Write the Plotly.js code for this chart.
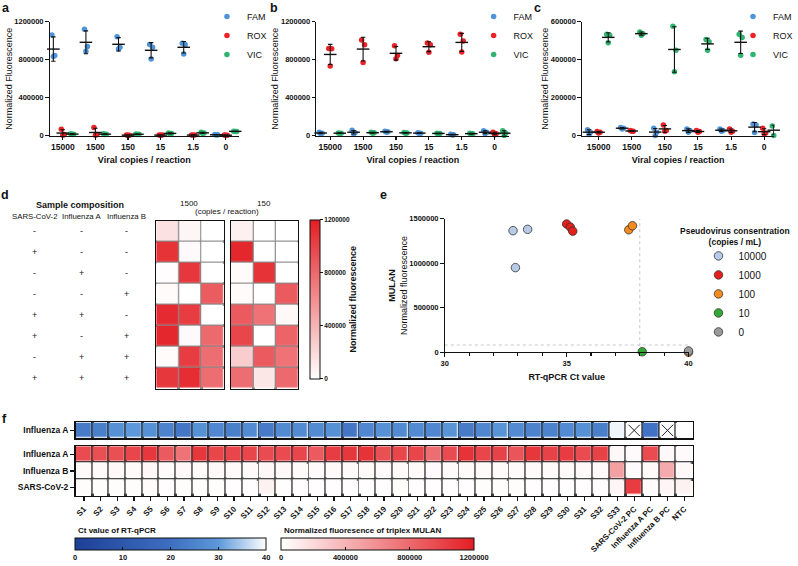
<!DOCTYPE html>
<html><head><meta charset="utf-8">
<script src="https://cdn.plot.ly/plotly-3.0.1.min.js"></script>
<style>html,body{margin:0;padding:0;background:#fff;overflow:hidden;width:798px;height:566px}#chart{width:798px;height:566px;overflow:hidden}</style>
</head><body><div id="chart"></div>
<script>
// ---------------- DATA ----------------
const dilutions = ['15000','1500','150','15','1.5','0'];
const channels = ['FAM','ROX','VIC'];
// panel a (SARS-CoV-2 dilution), 3 replicates per dilution
const aFAM = [[1060000,843000,833000],[1120000,940000,890000],[1043000,931000,913000],[959000,931000,808000],[973000,959000,861000],[12000,8000,5000]];
const aROX = [[66000,10000,3000],[84000,10000,3000],[6000,4000,3000],[6000,5000,3000],[7000,5000,3000],[6000,3000,2000]];
const aVIC = [[20000,15000,10000],[18000,15000,12000],[17000,14000,11000],[28000,22000,18000],[35000,28000,22000],[46000,44000,42000]];
// panel b (Influenza A dilution)
const bFAM = [[35000,25000,20000],[55000,30000,20000],[45000,40000,35000],[30000,25000,22000],[15000,8000,5000],[50000,35000,20000]];
const bROX = [[918000,915000,733000],[1008000,958000,770000],[948000,844000,810000],[975000,958000,878000],[1069000,998000,880000],[35000,20000,8000]];
const bVIC = [[28000,25000,22000],[35000,30000,25000],[32000,28000,25000],[25000,22000,20000],[25000,20000,15000],[50000,25000,0]];
// panel c (Influenza B dilution)
const cFAM = [[31000,17000,5000],[43000,38000,35000],[38000,17000,0],[35000,26000,17000],[35000,26000,23000],[61000,56000,16000]];
const cROX = [[21000,17000,14000],[26000,23000,23000],[56000,26000,23000],[26000,21000,17000],[35000,23000,17000],[38000,14000,9000]];
const cVIC = [[534000,529000,490000],[546000,537000,529000],[576000,450000,336000],[506000,494000,450000],[534000,517000,424000],[50000,35000,0]];

// panel d
const compSARS = ['-','+','-','-','+','+','-','+'];
const compFluA = ['-','-','+','-','+','-','+','+'];
const compFluB = ['-','-','-','+','-','+','+','+'];
const heat1500 = [[160000,50000,0],[1090000,30000,0],[10000,1065000,0],[20000,0,870000],[1130000,1040000,0],[1150000,30000,800000],[20000,1040000,775000],[1065000,1120000,775000]];
const heat150  = [[80000,0,0],[1150000,0,0],[20000,1090000,0],[20000,0,880000],[880000,750000,40000],[985000,0,830000],[270000,880000,750000],[775000,130000,800000]];

// panel e
const eGroups = ['10000','1000','100','10','0'];
const eCt    = [[32.8,33.4,32.9],[35.0,35.15,35.25],[37.55,37.7,40],[38.1],[40]];
const eFluor = [[1365000,1380000,950000],[1440000,1405000,1360000],[1375000,1420000,0],[5000],[14000]];
const ctCutoff = 38;
const fluorCutoff = 81000;

// panel f
const samples = ['S1','S2','S3','S4','S5','S6','S7','S8','S9','S10','S11','S12','S13','S14','S15','S16','S17','S18','S19','S20','S21','S22','S23','S24','S25','S26','S27','S28','S29','S30','S31','S32','S33','SARS-CoV-2 PC','Influenza A PC','Influenza B PC','NTC'];
const ctFluA = [23,24,28,30,28,25,22,28,26,24,27,23,27,27,27,28,22,26,28,27,27,26,29,23,26,29,27,25,25,27,28,24,39,null,21,null,40];
const mulanFluA = [960000,935000,935000,985000,1065000,880000,745000,1065000,985000,985000,985000,960000,960000,985000,880000,1040000,1065000,1090000,935000,985000,985000,775000,960000,1090000,985000,1010000,905000,1065000,1010000,1040000,960000,1010000,35000,30000,960000,35000,30000];
const mulanFluB = [25000,25000,40000,25000,45000,20000,40000,25000,40000,25000,25000,45000,35000,25000,30000,25000,25000,25000,30000,25000,25000,30000,25000,25000,25000,25000,25000,25000,25000,25000,25000,25000,505000,30000,25000,450000,40000];
const mulanSARS = [15000,15000,15000,15000,20000,10000,15000,15000,15000,10000,10000,70000,10000,10000,10000,10000,10000,10000,10000,15000,10000,10000,10000,10000,15000,15000,15000,10000,10000,10000,10000,10000,50000,1040000,20000,50000,70000];
const rowsF = ['Influenza A','Influenza B','SARS-CoV-2'];

// ---------------- HELPERS ----------------
const FONT = 'Liberation Sans, Arial, Helvetica, sans-serif';
const W = 798, H = 566;
const hx = (a,b)=>[a/W,b/W];
const vy = (t,b)=>[1-b/H,1-t/H];
const PX = x=>x/W, PY = y=>1-y/H;
const mean = a => a.reduce((s,v)=>s+v,0)/a.length;
const sdev = a => { const m=mean(a); return Math.sqrt(a.reduce((s,v)=>s+(v-m)*(v-m),0)/(a.length-1)); };
const INK = '#111';

const chColors = {FAM:'#4f93d8', ROX:'#ec2227', VIC:'#2fb36f'};
const groupOffset = {FAM:-0.29, ROX:0, VIC:0.29};
const jitter = [-0.045, 0.045, 0];
const redScale = [[0,'rgb(255,255,255)'],[1,'rgb(227,30,36)']];
const blueScale = [[0,'rgb(28,64,150)'],[0.5,'rgb(62,110,192)'],[0.75,'rgb(92,152,218)'],[1,'rgb(255,255,255)']];

const traces = [];
const panelsABC = [
  {data:{FAM:aFAM,ROX:aROX,VIC:aVIC}, xa:'x',  ya:'y',  leg:'legend'},
  {data:{FAM:bFAM,ROX:bROX,VIC:bVIC}, xa:'x2', ya:'y2', leg:'legend2'},
  {data:{FAM:cFAM,ROX:cROX,VIC:cVIC}, xa:'x3', ya:'y3', leg:'legend3'}
];
panelsABC.forEach(p=>{
  channels.forEach(ch=>{
    const xs=[], ys=[];
    p.data[ch].forEach((reps,i)=>reps.forEach((v,j)=>{xs.push(i+groupOffset[ch]+jitter[j]); ys.push(v);}));
    traces.push({type:'scatter', mode:'markers', x:xs, y:ys, xaxis:p.xa, yaxis:p.ya, name:ch, legend:p.leg,
      marker:{size:5.5, color:chColors[ch]}, cliponaxis:false, hoverinfo:'skip'});
  });
  channels.forEach(ch=>{
    const vals = p.data[ch];
    traces.push({type:'scatter', mode:'markers', x:vals.map((r,i)=>i+groupOffset[ch]), y:vals.map(mean),
      error_y:{type:'data', array:vals.map(sdev), color:INK, thickness:1.1, width:2.2},
      marker:{symbol:'line-ew-open', size:9, color:INK, line:{width:1.4, color:INK}},
      xaxis:p.xa, yaxis:p.ya, showlegend:false, cliponaxis:false, hoverinfo:'skip'});
  });
});

// panel d heatmaps
traces.push({type:'heatmap', z:heat1500, xaxis:'x4', yaxis:'y4', colorscale:redScale, zmin:0, zmax:1200000, xgap:1.2, ygap:1.2,
  showscale:true, hoverinfo:'skip',
  colorbar:{x:PX(312), xanchor:'left', y:PY(302.5), yanchor:'middle', len:159, lenmode:'pixels', thickness:10, thicknessmode:'pixels',
    xpad:0, ypad:0, outlinewidth:1, outlinecolor:INK, tickvals:[0,400000,800000,1200000], tickformat:'d',
    ticks:'outside', ticklen:3, tickcolor:INK, tickfont:{family:FONT, size:6.5, weight:'bold', color:INK},
    title:{text:'Normalized fluorescence', side:'right', font:{family:FONT, size:9, weight:'bold', color:INK}}}});
traces.push({type:'heatmap', z:heat150, xaxis:'x5', yaxis:'y5', colorscale:redScale, zmin:0, zmax:1200000, xgap:1.2, ygap:1.2,
  showscale:false, hoverinfo:'skip'});

// panel e
const eColors = ['#b7cbe9','#e3201b','#f58a1f','#32a935','#9a9a9a'];
eGroups.forEach((g,k)=>{
  traces.push({type:'scatter', mode:'markers', x:eCt[k], y:eFluor[k], name:g, legend:'legend4', xaxis:'x6', yaxis:'y6',
    marker:{size:8.5, color:eColors[k], line:{color:'#333', width:0.8}}, cliponaxis:false, hoverinfo:'skip'});
});

// panel f
const ctIdx = samples.map((s,i)=>i);
traces.push({type:'heatmap', z:[ctFluA.map(v=>v===null?40:v)], x:ctIdx, y:[0], xaxis:'x7', yaxis:'y7',
  colorscale:blueScale, zmin:0, zmax:40, xgap:1.5, ygap:1.5, showscale:true, hoverinfo:'skip',
  colorbar:{orientation:'h', x:PX((76+267)/2), xanchor:'center', y:PY(558), yanchor:'middle', len:191, lenmode:'pixels',
    thickness:12, thicknessmode:'pixels', xpad:0, ypad:0, outlinewidth:1, outlinecolor:INK,
    tickvals:[0,10,20,30,40], ticks:'inside', ticklen:3, tickcolor:INK, tickfont:{family:FONT, size:7.5, weight:'bold', color:INK},
    title:{text:''}}});
traces.push({type:'scatter', mode:'markers', x:ctIdx.filter(i=>ctFluA[i]===null), y:ctIdx.filter(i=>ctFluA[i]===null).map(()=>0),
  xaxis:'x7', yaxis:'y7', showlegend:false, hoverinfo:'skip', cliponaxis:false,
  marker:{symbol:'x-thin-open', size:11.4, color:'#222', line:{width:1, color:'#222'}}});
traces.push({type:'heatmap', z:[mulanFluA, mulanFluB, mulanSARS], x:ctIdx, y:[0,1,2], xaxis:'x8', yaxis:'y8',
  colorscale:redScale, zmin:0, zmax:1200000, xgap:1.5, ygap:1.5, showscale:true, hoverinfo:'skip',
  colorbar:{orientation:'h', x:PX((283+476)/2), xanchor:'center', y:PY(558), yanchor:'middle', len:193, lenmode:'pixels',
    thickness:12, thicknessmode:'pixels', xpad:0, ypad:0, outlinewidth:1, outlinecolor:INK,
    tickvals:[0,400000,800000,1200000], tickformat:'d', ticks:'inside', ticklen:3, tickcolor:INK,
    tickfont:{family:FONT, size:7.5, weight:'bold', color:INK}, title:{text:''}}});

// ---------------- LAYOUT ----------------
const tickFont = {family:FONT, size:7.5, weight:'bold', color:INK};
const baseAx = {showline:true, linecolor:INK, linewidth:1.2, ticks:'outside', ticklen:3.5, tickwidth:1.1, tickcolor:INK,
  showgrid:false, zeroline:false, tickfont:tickFont, fixedrange:true};
function abcX(dom, range, anchor){
  return Object.assign({}, baseAx, {domain:dom, range:range, anchor:anchor, tickmode:'array', tickvals:dilutions.map((d,i)=>i), ticktext:dilutions,
    tickfont:{family:FONT, size:8.5, weight:'bold', color:INK},
    title:{text:'Viral copies / reaction', font:{family:FONT, size:9, weight:'bold', color:INK}, standoff:5}});
}
function abcY(dom, max, step, anchor){
  const tv=[]; for(let v=0; v<=max; v+=step) tv.push(v);
  return Object.assign({}, baseAx, {domain:dom, range:[0,max], anchor:anchor, tickmode:'array', tickvals:tv, tickformat:'d',
    title:{text:'Normalized Fluorescence', font:{family:FONT, size:9, color:INK}, standoff:0}});
}
function heatAx(dom, range, anchor, gridColor, lw){
  return {domain:dom, range:range, anchor:anchor, showline:true, mirror:true, linecolor:INK, linewidth:lw, showgrid:false, zeroline:false,
    tickmode:'array', tickvals:[], ticks:'', showticklabels:false, fixedrange:true,
    minor:{tickmode:'linear', tick0:-0.5, dtick:1, showgrid:true, gridcolor:gridColor, gridwidth:3, ticks:''}};
}
const legBase = {xanchor:'left', yanchor:'top', bgcolor:'rgba(0,0,0,0)', font:{family:FONT, size:9, color:INK}, tracegroupgap:0};

const yDomABC = vy(22,137);
const layout = {
  width:W, height:H, margin:{l:0,r:0,t:0,b:0}, paper_bgcolor:'#fff', plot_bgcolor:'#fff',
  font:{family:FONT, color:INK}, hovermode:false,
  xaxis: abcX(hx(50,240), [-0.4,5.4], 'y'),
  yaxis: abcY(yDomABC, 1200000, 400000, 'x'),
  xaxis2: abcX(hx(318,512), [-0.42,5.45], 'y2'),
  yaxis2: abcY(yDomABC, 1200000, 400000, 'x2'),
  xaxis3: abcX(hx(585,778), [-0.5,5.3], 'y3'),
  yaxis3: abcY(yDomABC, 600000, 200000, 'x3'),
  xaxis4: heatAx(hx(157,225), [-0.5,2.5], 'y4', '#8a8a8a', 1),
  yaxis4: heatAx(vy(223,393), [7.5,-0.5], 'x4', '#8a8a8a', 1),
  xaxis5: heatAx(hx(232,300), [-0.5,2.5], 'y5', '#8a8a8a', 1),
  yaxis5: heatAx(vy(223,393), [7.5,-0.5], 'x5', '#8a8a8a', 1),
  xaxis6: Object.assign({}, baseAx, {domain:hx(447,692), range:[30,40], anchor:'y6', tickmode:'array', tickvals:[30,35,40],
    minor:{tickmode:'linear', tick0:30, dtick:1, ticks:'outside', ticklen:3, tickcolor:INK, showgrid:false},
    title:{text:'RT-qPCR Ct value', font:{family:FONT, size:9, weight:'bold', color:INK}, standoff:6}}),
  yaxis6: Object.assign({}, baseAx, {domain:vy(221,356), range:[0,1500000], anchor:'x6', tickmode:'array',
    tickvals:[0,500000,1000000,1500000], tickformat:'d',
    title:{text:'<b>MULAN</b><br>Normalized fluorescence', font:{family:FONT, size:9, color:INK}, standoff:0}}),
  xaxis7: heatAx(hx(76,696), [-0.5,36.5], 'y7', '#333', 1.6),
  yaxis7: Object.assign(heatAx(vy(427,443), [-0.5,0.5], 'x7', '#333', 1.6), {tickvals:[0], ticktext:['Influenza A'],
    showticklabels:true, ticks:'outside', ticklen:4, tickcolor:INK, tickwidth:1.2, tickfont:{family:FONT, size:8.5, weight:'bold', color:INK}}),
  xaxis8: Object.assign(heatAx(hx(76,696), [-0.5,36.5], 'y8', '#333', 1.6), {tickvals:ctIdx, ticktext:samples,
    showticklabels:true, ticks:'outside', ticklen:4, tickcolor:INK, tickwidth:1.2, tickangle:-45,
    tickfont:{family:FONT, size:8, weight:'bold', color:INK}}),
  yaxis8: Object.assign(heatAx(vy(451,501), [2.5,-0.5], 'x8', '#333', 1.6), {tickvals:[0,1,2], ticktext:rowsF,
    showticklabels:true, ticks:'outside', ticklen:4, tickcolor:INK, tickwidth:1.2, tickfont:{family:FONT, size:8.5, weight:'bold', color:INK}}),
  legend:  Object.assign({}, legBase, {x:PX(208), y:PY(2)}),
  legend2: Object.assign({}, legBase, {x:PX(476), y:PY(2)}),
  legend3: Object.assign({}, legBase, {x:PX(737), y:PY(2)}),
  legend4: Object.assign({}, legBase, {x:PX(702), y:PY(244), font:{family:FONT, size:10, color:INK}}),
  shapes:[
    {type:'line', xref:'x6', yref:'y6', x0:ctCutoff, x1:ctCutoff, y0:0, y1:1500000, layer:'below', line:{color:'#c8c8c8', width:1, dash:'dot'}},
    {type:'line', xref:'x6', yref:'y6', x0:30, x1:40, y0:fluorCutoff, y1:fluorCutoff, layer:'below', line:{color:'#c8c8c8', width:1, dash:'dot'}}
  ],
  annotations:[]
};

const A = layout.annotations;
function ann(text, x, y, o){ A.push(Object.assign({text:text, x:PX(x), y:PY(y), xref:'paper', yref:'paper', showarrow:false,
  xanchor:'center', yanchor:'middle', font:{family:FONT, size:8, color:INK}}, o||{})); }
const letterFont = {family:FONT, size:12.5, weight:'bold', color:INK};
[['a',6,8],['b',275,8],['c',540,8],['d',5,197],['e',385,197],['f',5,423]].forEach(l=>ann(l[0], l[1], l[2], {font:letterFont}));
// panel d text table
ann('Sample composition', 80, 207, {font:{family:FONT, size:9, weight:'bold', color:INK}});
const compCols = [['SARS-CoV-2',35,compSARS],['Influenza A',82,compFluA],['Influenza B',127,compFluB]];
compCols.forEach(c=>{
  ann(c[0], c[1], 219, {font:{family:FONT, size:7.8, color:INK}});
  c[2].forEach((s,i)=>A.push({text:s, x:PX(c[1]), xref:'paper', y:i, yref:'y4', showarrow:false, xanchor:'center', yanchor:'middle',
    font:{family:FONT, size:9, color:'#222'}}));
});
ann('1500', 190, 206, {font:{family:FONT, size:8, color:INK}});
ann('150', 265, 206, {font:{family:FONT, size:8, color:INK}});
ann('(copies / reaction)', 228, 214, {font:{family:FONT, size:8, color:INK}});
// panel e legend title
ann('Pseudovirus consentration<br>(copies / mL)', 739, 239, {font:{family:FONT, size:8.5, weight:'bold', color:INK}});
// panel f colorbar titles
ann('Ct value of RT-qPCR', 76, 536, {xanchor:'left', font:{family:FONT, size:8, weight:'bold', color:INK}});
ann('Normalized fluoresence of triplex MULAN', 283, 536, {xanchor:'left', font:{family:FONT, size:8, weight:'bold', color:INK}});

Plotly.newPlot('chart', traces, layout, {displayModeBar:false, staticPlot:true});
</script>
</body></html>
